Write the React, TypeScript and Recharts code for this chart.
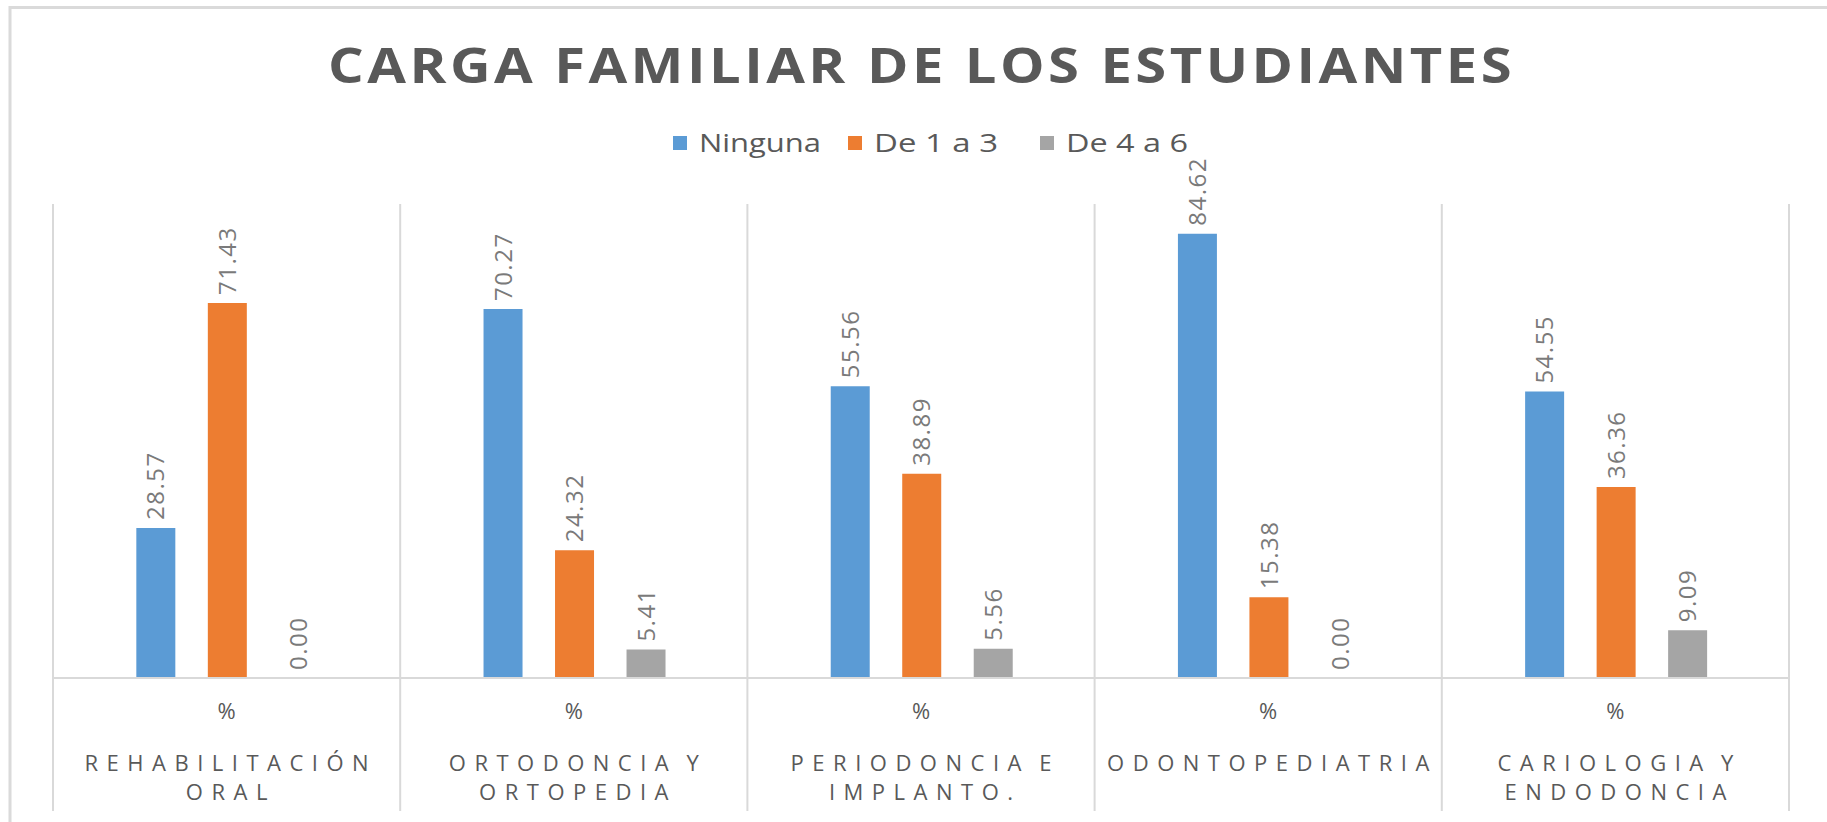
import React from 'react';
import { BarChart, Bar, XAxis, YAxis, LabelList } from 'recharts';

// chart values
const categories = ['REHABILITACIÓN ORAL', 'ORTODONCIA Y ORTOPEDIA', 'PERIODONCIA E IMPLANTO.', 'ODONTOPEDIATRIA', 'CARIOLOGIA Y ENDODONCIA'];
const categoryLines = [
  ['REHABILITACIÓN', 'ORAL'],
  ['ORTODONCIA Y', 'ORTOPEDIA'],
  ['PERIODONCIA E', 'IMPLANTO.'],
  ['ODONTOPEDIATRIA'],
  ['CARIOLOGIA Y', 'ENDODONCIA'],
];
const unitLabel = '%';
const ninguna = [28.57, 70.27, 55.56, 84.62, 54.55];
const de1a3 = [71.43, 24.32, 38.89, 15.38, 36.36];
const de4a6 = [0.0, 5.41, 5.56, 0.0, 9.09];

const seriesNames = ['Ninguna', 'De 1 a 3', 'De 4 a 6'];
const seriesKeys = ['ninguna', 'de1a3', 'de4a6'];
const seriesColors = ['#5B9BD5', '#ED7D31', '#A5A5A5'];

const title = 'CARGA FAMILIAR  DE LOS ESTUDIANTES';

const data = categories.map((name, i) => ({
  name,
  lines: categoryLines[i],
  ninguna: ninguna[i],
  de1a3: de1a3[i],
  de4a6: de4a6[i],
}));

const W = 1827;
const H = 822;
const M = { top: 205.5, right: 38, bottom: 0, left: 53 };
const AXIS_H = 144;
const PLOT_W = W - M.left - M.right;
const BAND = PLOT_W / categories.length;
const PLOT_TOP = M.top;
const PLOT_BOTTOM = H - M.bottom - AXIS_H;
const GRID = '#D9D9D9';
const FONT = '"Open Sans", "Noto Sans", sans-serif';

const CategoryTick = (props: any) => {
  const { x, payload, index } = props;
  const lines: string[] = data[index]?.lines ?? [payload.value];
  const ls = 8.5;
  return (
    <g>
      <line x1={x - BAND / 2} x2={x - BAND / 2} y1={PLOT_TOP - 1.5} y2={811} stroke={GRID} strokeWidth={2} />
      {index === categories.length - 1 && (
        <line x1={x + BAND / 2} x2={x + BAND / 2} y1={PLOT_TOP - 1.5} y2={811} stroke={GRID} strokeWidth={2} />
      )}
      <text x={x} y={PLOT_BOTTOM + 41} textAnchor="middle" fill="#595959" fontSize={22} fontFamily={FONT}>
        {unitLabel}
      </text>
      {lines.map((l, i) => (
        <text
          key={i}
          x={x + ls / 2}
          y={PLOT_BOTTOM + 93 + i * 29}
          textAnchor="middle"
          fill="#595959"
          fontSize={22}
          letterSpacing={ls}
          wordSpacing={-5}
          fontFamily={FONT}
        >
          {l}
        </text>
      ))}
    </g>
  );
};

const ValueLabel = (props: any) => {
  const vb = props.viewBox ?? props;
  const x = Number(vb.x ?? props.x);
  const y = Number(vb.y ?? props.y);
  const w = Number(vb.width ?? props.width);
  const h = Number(vb.height ?? props.height);
  const top = h < 0 ? y + h : y;
  const cx = x + w / 2;
  const ty = top - 8;
  return (
    <text
      x={cx}
      y={ty}
      dy="0.36em"
      transform={`rotate(-90 ${cx} ${ty})`}
      textAnchor="start"
      fill="#7A7A7A"
      fontSize={24}
      letterSpacing={1.5}
      fontFamily={FONT}
    >
      {Number(props.value).toFixed(2)}
    </text>
  );
};

const legendItems = [
  { sq: 673, tx: 699, len: 122 },
  { sq: 848, tx: 874, len: 124 },
  { sq: 1040, tx: 1066, len: 122 },
];

export default function App() {
  return (
    <div style={{ position: 'absolute', left: 0, top: 0, width: W, height: H, background: '#fff', overflow: 'hidden' }}>
      <svg width={W} height={H} style={{ position: 'absolute', left: 0, top: 0 }}>
        <rect x={10} y={7.5} width={W + 20} height={H + 20} fill="none" stroke="#DADADA" strokeWidth={3} />
        <text
          x={921.5}
          y={83}
          textAnchor="middle"
          fill="#595959"
          fontSize={49}
          fontWeight={700}
          letterSpacing={3}
          fontFamily={FONT}
          textLength={1187}
          lengthAdjust="spacingAndGlyphs"
        >
          {title}
        </text>
        {seriesNames.map((n, i) => (
          <g key={n}>
            <rect x={legendItems[i].sq} y={136} width={14} height={14} fill={seriesColors[i]} />
            <text
              x={legendItems[i].tx}
              y={152}
              fill="#595959"
              fontSize={25}
              fontFamily={FONT}
              textLength={legendItems[i].len}
              lengthAdjust="spacingAndGlyphs"
            >
              {n}
            </text>
          </g>
        ))}
      </svg>
      <div style={{ position: 'absolute', left: 0, top: 0 }}>
        <BarChart width={W} height={H} data={data} margin={M} barCategoryGap="24%" barGap={32.5}>
          <XAxis
            dataKey="name"
            height={AXIS_H}
            interval={0}
            tickLine={false}
            axisLine={{ stroke: GRID, strokeWidth: 2 }}
            tick={<CategoryTick />}
          />
          <YAxis hide domain={[0, 90]} />
          {seriesKeys.map((k, i) => (
            <Bar
              key={k}
              dataKey={k}
              name={seriesNames[i]}
              fill={seriesColors[i]}
              minPointSize={0.01}
              isAnimationActive={false}
            >
              <LabelList dataKey={k} content={<ValueLabel />} />
            </Bar>
          ))}
        </BarChart>
      </div>
    </div>
  );
}
